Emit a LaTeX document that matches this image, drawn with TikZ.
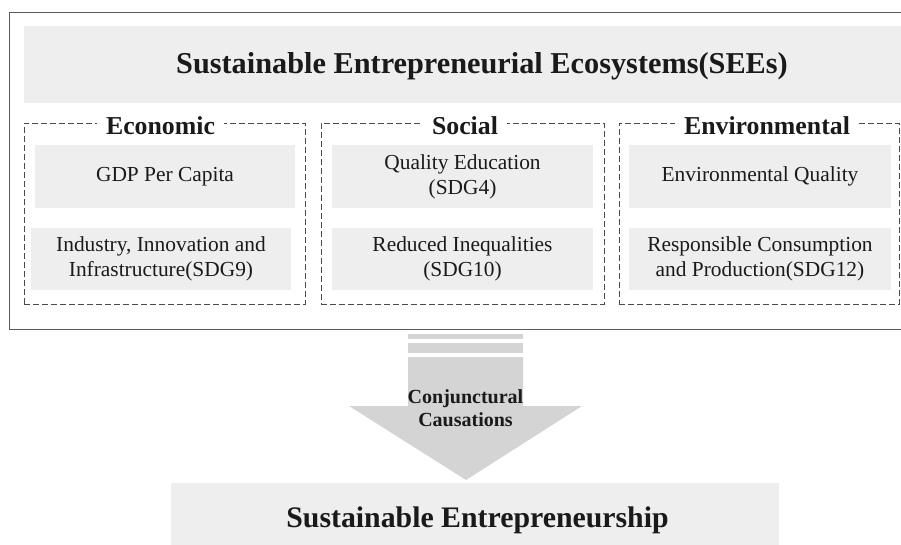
\documentclass[tikz,border=0pt]{standalone}
\usepackage{fontspec}
\setmainfont{Liberation Serif}
\definecolor{panelgray}{HTML}{EEEEEE}
\definecolor{arrowgray}{HTML}{D4D4D4}
\definecolor{framegray}{HTML}{5A5A5A}
\definecolor{dashgray}{HTML}{4A4A4A}
\definecolor{inktext}{HTML}{1A1A1A}
\tikzset{
  panel/.style={fill=panelgray, draw=none, inner sep=0pt, text=inktext, align=center},
  itembox/.style={panel, font=\fontsize{21.4}{25}\selectfont},
  groupframe/.style={draw=dashgray, line width=0.9pt, dash pattern=on 6pt off 3pt, inner sep=0pt},
  grouplabel/.style={fill=white, inner xsep=9pt, inner ysep=2pt, text=inktext, anchor=base,
    font=\fontsize{25.8}{30}\selectfont\bfseries},
  headline/.style={text=inktext, anchor=base, font=\fontsize{30.3}{35}\selectfont\bfseries},
}
\begin{document}
\begin{tikzpicture}[x=1pt,y=-1pt]
\useasboundingbox (0,0) rectangle (901,544);

% outer frame (open to the right)
\draw[framegray, line width=1pt] (920,12) -- (9,12) -- (9,329) -- (920,329);

% title band
\node[panel, minimum width=916, minimum height=77, anchor=north west] (band) at (24,26) {};
\node[headline] (title) at (482,73) {Sustainable Entrepreneurial Ecosystems(SEEs)};

% dimension groups
\node[groupframe, minimum width=281, minimum height=181] (econ) at (164.5,213.5) {};
\node[groupframe, minimum width=283, minimum height=181] (soc) at (462.5,213.5) {};
\node[groupframe, minimum width=280, minimum height=181] (env) at (759,213.5) {};

\node[grouplabel] (econlabel) at (160.5,134) {Economic};
\node[grouplabel] (soclabel) at (465,134) {Social};
\node[grouplabel] (envlabel) at (767,134) {Environmental};

% indicators
\node[itembox, minimum width=260, minimum height=63] (gdp) at (165,176.5) {GDP Per Capita};
\node[itembox, minimum width=260, minimum height=62] (sdg9) at (161,259) {Industry, Innovation and\\Infrastructure(SDG9)};
\node[itembox, minimum width=261, minimum height=63] (sdg4) at (462.5,176.5) {Quality Education\\(SDG4)};
\node[itembox, minimum width=261, minimum height=62] (sdg10) at (462.5,259) {Reduced Inequalities\\(SDG10)};
\node[itembox, minimum width=262, minimum height=63] (envq) at (760,176.5) {Environmental Quality};
\node[itembox, minimum width=262, minimum height=62] (sdg12) at (760,259) {Responsible Consumption\\and Production(SDG12)};

% block arrow
\fill[arrowgray] (408,334) rectangle (523,339);
\fill[arrowgray] (408,343) rectangle (523,353);
\fill[arrowgray] (408,357) -- (523,357) -- (523,406) -- (582,406) -- (466,480)
  -- (349,406) -- (408,406) -- cycle;
\node[text=inktext, align=center, font=\fontsize{20}{23}\selectfont\bfseries] (cc) at (465.5,408)
  {Conjunctural\\Causations};

% outcome
\node[panel, minimum width=608, minimum height=80, anchor=north west] (outcome) at (171,483) {};
\node[headline, font=\fontsize{29.8}{35}\selectfont\bfseries] (outtitle) at (477.5,527) {Sustainable Entrepreneurship};
\end{tikzpicture}
\end{document}
